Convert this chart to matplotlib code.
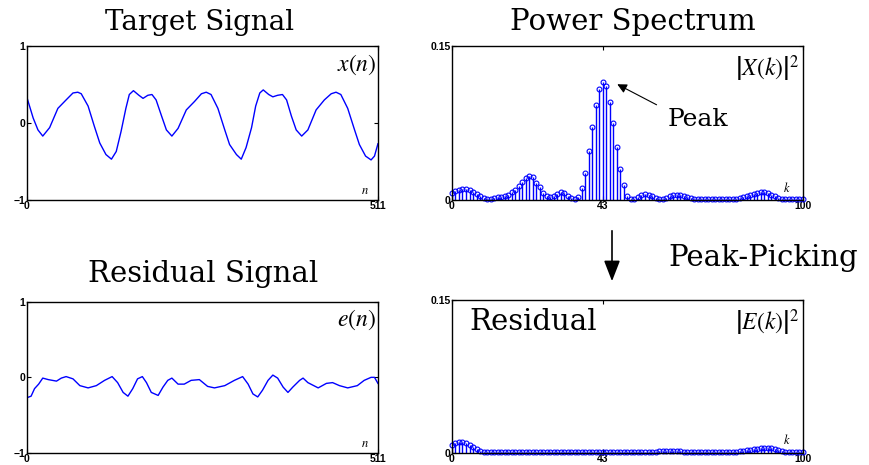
import numpy as np
import matplotlib
matplotlib.use("Agg")
import matplotlib.pyplot as plt

# Target signal x(n)
x_n = [0, 9, 16, 23, 33, 45, 57, 67, 74, 79, 89, 98, 106, 115, 123, 130,
       137, 144, 149, 155, 163, 169, 176, 182, 188, 196, 203, 211, 220,
       232, 244, 254, 261, 268, 278, 288, 295, 305, 312, 319, 327, 333,
       339, 344, 352, 358, 365, 372, 378, 385, 392, 400, 409, 421, 433,
       443, 450, 457, 467, 477, 484, 493, 501, 506, 511]
x_val = [0.33, 0.065, -0.09, -0.17, -0.06, 0.19, 0.30, 0.39, 0.40, 0.38,
         0.22, -0.04, -0.26, -0.41, -0.47, -0.37, -0.11, 0.19, 0.37, 0.42,
         0.36, 0.32, 0.36, 0.37, 0.30, 0.09, -0.09, -0.17, -0.07, 0.17,
         0.28, 0.38, 0.40, 0.37, 0.19, -0.09, -0.28, -0.41, -0.47, -0.32,
         -0.06, 0.22, 0.39, 0.43, 0.37, 0.34, 0.36, 0.37, 0.30, 0.09,
         -0.09, -0.17, -0.09, 0.17, 0.30, 0.38, 0.40, 0.37, 0.19, -0.09,
         -0.28, -0.43, -0.48, -0.43, -0.27]

# Residual signal e(n)
e_n = [0, 6, 11, 17, 23, 31, 43, 50, 57, 67, 77, 89, 101, 113, 124, 132,
       140, 147, 154, 161, 168, 174, 181, 191, 198, 205, 211, 220, 229,
       239, 251, 263, 273, 288, 302, 314, 322, 329, 336, 343, 351, 358,
       365, 373, 380, 387, 397, 402, 409, 424, 436, 445, 455, 467, 481,
       491, 501, 506, 511]
e_val = [-0.27, -0.25, -0.15, -0.09, -0.01, -0.03, -0.05, -0.01, 0.01,
         -0.02, -0.11, -0.14, -0.11, -0.04, 0.01, -0.07, -0.20, -0.25,
         -0.15, -0.02, 0.01, -0.07, -0.20, -0.24, -0.13, -0.04, -0.01,
         -0.09, -0.09, -0.04, -0.03, -0.12, -0.14, -0.11, -0.04, 0.01,
         -0.09, -0.22, -0.26, -0.17, -0.04, 0.03, -0.01, -0.13, -0.20,
         -0.13, -0.04, -0.01, -0.07, -0.14, -0.08, -0.07, -0.11, -0.14,
         -0.11, -0.04, 0.0, 0.0, -0.08]

# Power spectra |X(k)|^2 and |E(k)|^2, k = 0..100
k = np.arange(101)
X_pow = [0.0065, 0.0085, 0.010, 0.011, 0.011, 0.010, 0.008, 0.006, 0.0035, 0.0015,
         0.001, 0.001, 0.0015, 0.0025, 0.0032, 0.0042, 0.0053, 0.0074, 0.010, 0.0135,
         0.0177, 0.0216, 0.0232, 0.022, 0.017, 0.0125, 0.0072, 0.0037, 0.003, 0.004,
         0.0062, 0.0076, 0.0065, 0.004, 0.0017, 0.0005, 0.0026, 0.0114, 0.026, 0.0474,
         0.0708, 0.0925, 0.108, 0.1146, 0.111, 0.0958, 0.0753, 0.052, 0.0305, 0.0143,
         0.0039, 0.0012, 0.0008, 0.003, 0.0048, 0.0055, 0.005, 0.0035, 0.0015, 0.0005,
         0.0008, 0.002, 0.0035, 0.0045, 0.005, 0.0048, 0.004, 0.003, 0.002, 0.0013,
         0.0009, 0.0008, 0.0007, 0.0006, 0.0005, 0.0005, 0.0005, 0.0005, 0.0005, 0.0005,
         0.0005, 0.0008, 0.0015, 0.0025, 0.0038, 0.005, 0.0062, 0.0072, 0.0076, 0.0073,
         0.0065, 0.005, 0.0035, 0.002, 0.001, 0.0006, 0.0008, 0.0012, 0.0014, 0.0013,
         0.0011]
E_pow = [0.0075, 0.0095, 0.0105, 0.0105, 0.0097, 0.008, 0.0058, 0.0035, 0.0017, 0.0007,
         0.0005, 0.0006, 0.0008, 0.001, 0.0011, 0.001, 0.0008, 0.0006, 0.0004, 0.0003,
         0.0003, 0.0003, 0.0004, 0.0005, 0.0005, 0.0005, 0.0004, 0.0004, 0.0005, 0.0006,
         0.0006, 0.0005, 0.0004, 0.0004, 0.0005, 0.0005, 0.0005, 0.0004, 0.0003, 0.0004,
         0.0005, 0.0006, 0.0005, 0.0004, 0.0004, 0.0005, 0.0006, 0.0005, 0.0004, 0.0004,
         0.0005, 0.0006, 0.0005, 0.0004, 0.0004, 0.0005, 0.0006, 0.0008, 0.001, 0.0012,
         0.0014, 0.0016, 0.0017, 0.0017, 0.0016, 0.0014, 0.0011, 0.0008, 0.0006, 0.0005,
         0.0004, 0.0004, 0.0003, 0.0003, 0.0003, 0.0003, 0.0004, 0.0004, 0.0005, 0.0006,
         0.0008, 0.001, 0.0013, 0.0018, 0.0024, 0.003, 0.0036, 0.0041, 0.0045, 0.0047,
         0.0046, 0.0042, 0.0035, 0.0027, 0.0018, 0.001, 0.0006, 0.0006, 0.0008, 0.0009,
         0.0008]

plt.rcParams["mathtext.fontset"] = "stix"
serif = "DejaVu Serif"
tick_font = dict(family="Liberation Sans", weight="bold", size=7.5)

fig = plt.figure(figsize=(8.7, 4.65), dpi=100)


def style_axes(ax):
    ax.tick_params(direction="in", length=3, width=0.8, top=True, right=True,
                   pad=1)
    for lab in ax.get_xticklabels() + ax.get_yticklabels():
        lab.set_fontproperties(tick_font)
    for sp in ax.spines.values():
        sp.set_linewidth(1.0)


def signal_axes(rect, n, vals, label):
    ax = fig.add_axes(rect)
    ax.plot(n, vals, color="#0000ff", lw=1.0)
    ax.set_xlim(0, 511)
    ax.set_ylim(-1, 1)
    ax.set_xticks([0, 511])
    ax.set_yticks([-1, 0, 1])
    ax.set_yticklabels(["\u22121", "0", "1"])
    style_axes(ax)
    ax.text(0.995, 0.88, label, transform=ax.transAxes, ha="right",
            va="center", fontsize=17)
    ax.text(0.975, 0.06, r"$n$", transform=ax.transAxes, ha="right",
            va="center", fontsize=9)
    return ax


def spectrum_axes(rect, vals, label):
    ax = fig.add_axes(rect)
    ml, sl, bl = ax.stem(k, vals, linefmt="-", markerfmt="o", basefmt=" ")
    sl.set_color("#0000ff")
    sl.set_linewidth(1.0)
    ml.set_color("#0000ff")
    ml.set_markerfacecolor("none")
    ml.set_markersize(3.5)
    ml.set_markeredgewidth(0.8)
    ml.set_clip_on(False)
    ax.set_xlim(0, 100)
    ax.set_ylim(0, 0.15)
    ax.set_xticks([0, 43, 100])
    ax.set_yticks([0, 0.15])
    ax.set_yticklabels(["0", "0.15"])
    style_axes(ax)
    ax.text(0.99, 0.85, label, transform=ax.transAxes, ha="right",
            va="center", fontsize=17)
    ax.text(0.965, 0.08, r"$k$", transform=ax.transAxes, ha="right",
            va="center", fontsize=9)
    return ax


signal_axes([0.031, 0.570, 0.4034, 0.331], x_n, x_val, r"$x\left(n\right)$")
ax_x = spectrum_axes([0.5195, 0.570, 0.4034, 0.331], X_pow,
                     r"$\left|X\left(k\right)\right|^2$")
signal_axes([0.031, 0.0265, 0.4034, 0.324], e_n, e_val, r"$e\left(n\right)$")
ax_e = spectrum_axes([0.5195, 0.0265, 0.4034, 0.328], E_pow,
                     r"$\left|E\left(k\right)\right|^2$")

# annotations
ax_x.annotate("", xy=(46.4, 0.114), xytext=(59, 0.0915),
              arrowprops=dict(arrowstyle="-|>", color="black", lw=0.8,
                              mutation_scale=14))
ax_x.text(61.5, 0.078, "Peak", family=serif, fontsize=18, ha="left",
          va="center")
ax_e.text(0.05, 0.86, "Residual", transform=ax_e.transAxes, family=serif,
          fontsize=21, ha="left", va="center")

fig.text(200 / 870, 1 - 22 / 465, "Target Signal", family=serif,
         fontsize=20, ha="center", va="center")
fig.text(633 / 870, 1 - 22 / 465, "Power Spectrum", family=serif,
         fontsize=21, ha="center", va="center")
fig.text(203 / 870, 1 - 274 / 465, "Residual Signal", family=serif,
         fontsize=21, ha="center", va="center")
fig.text(668 / 870, 1 - 258 / 465, "Peak-Picking", family=serif,
         fontsize=21, ha="left", va="center")
fig.add_artist(plt.Annotation(
    "", xy=(612, 465 - 284), xytext=(612, 465 - 228),
    xycoords="figure pixels", textcoords="figure pixels",
    arrowprops=dict(arrowstyle="-|>,head_length=0.9,head_width=0.35",
                    color="black", lw=1.2, mutation_scale=14)))

fig.savefig("out.png", dpi=100)
